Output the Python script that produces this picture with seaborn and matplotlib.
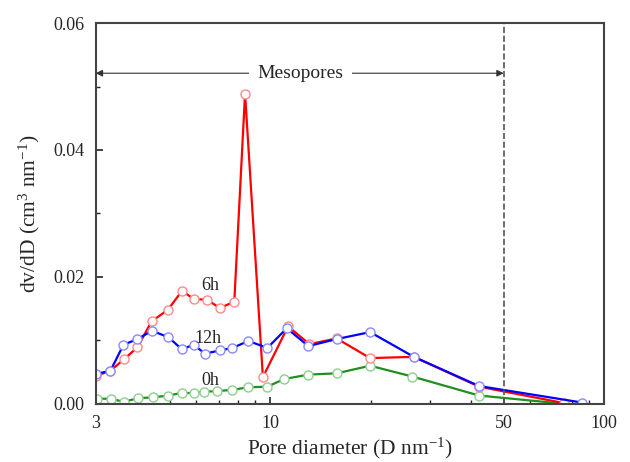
import matplotlib
matplotlib.use('Agg')
import matplotlib.pyplot as plt
import seaborn as sns
from matplotlib.ticker import FixedLocator, NullFormatter, MultipleLocator

# pore diameter (nm) and dv/dD values
x_6h = [3.0, 3.32, 3.64, 4.0, 4.41, 4.93, 5.44, 5.9, 6.45, 7.07, 7.8, 8.4, 9.5,
        11.3, 13.1, 15.8, 19.9, 26.9, 42.2, 76]
y_6h = [0.0044, 0.0052, 0.0070, 0.0089, 0.0130, 0.0148, 0.0178, 0.0165, 0.0164,
        0.0151, 0.0161, 0.0489, 0.0042, 0.0122, 0.0094, 0.0103, 0.0072, 0.0074,
        0.0027, 0.0001]

x_12h = [3.0, 3.32, 3.63, 4.0, 4.42, 4.95, 5.43, 5.9, 6.37, 7.05, 7.7, 8.6, 9.8,
         11.2, 13.0, 15.8, 19.9, 26.9, 42.2, 85.7]
y_12h = [0.0047, 0.0052, 0.0093, 0.0102, 0.0115, 0.0105, 0.0086, 0.0093, 0.0079,
         0.0084, 0.0088, 0.0099, 0.0088, 0.0119, 0.0091, 0.0102, 0.0113, 0.0074,
         0.0028, 0.0002]

x_0h = [3.03, 3.33, 3.64, 4.02, 4.45, 4.93, 5.43, 5.9, 6.35, 6.94, 7.7, 8.6, 9.8,
        11.0, 13.0, 15.8, 19.9, 26.6, 42.2, 76]
y_0h = [0.0008, 0.0008, 0.0003, 0.0009, 0.0010, 0.0013, 0.0017, 0.0017, 0.0019,
        0.0020, 0.0022, 0.0026, 0.0027, 0.0039, 0.0046, 0.0048, 0.0060, 0.0043,
        0.0013, 0.0]

x_ticks = [3, 10, 50, 100]
x_tick_labels = ['3', '10', '50', '100']

sns.set_style('ticks')
plt.rcParams['font.family'] = ['Liberation Serif', 'DejaVu Serif']
plt.rcParams['mathtext.fontset'] = 'custom'
plt.rcParams['mathtext.rm'] = 'Liberation Serif'
plt.rcParams['mathtext.it'] = 'Liberation Serif:italic'

fig = plt.figure(figsize=(6.3, 4.62), dpi=100)
ax = fig.add_axes([0.152, 0.126, 0.807, 0.824])


def draw_series(x, y, line_col, marker_col):
    sns.lineplot(x=x, y=y, ax=ax, color=line_col, linewidth=1.6, marker='o',
                 markersize=6.5, markerfacecolor='white',
                 markeredgecolor=marker_col, markeredgewidth=1.0)


draw_series(x_0h, y_0h, '#1f8f1f', '#8fcf8f')
draw_series(x_6h, y_6h, '#ff0000', '#ff8a8a')
draw_series(x_12h, y_12h, '#0000ff', '#8a8aff')

ax.set_xscale('log')
ax.set_xlim(3, 100)
ax.set_ylim(0, 0.06)
ax.xaxis.set_major_locator(FixedLocator(x_ticks))
ax.set_xticklabels(x_tick_labels)
ax.xaxis.set_minor_locator(FixedLocator([4, 5, 6, 7, 8, 9, 20, 30, 40, 60, 70, 80, 90]))
ax.xaxis.set_minor_formatter(NullFormatter())
ax.yaxis.set_major_locator(MultipleLocator(0.02))
ax.yaxis.set_minor_locator(MultipleLocator(0.01))
ax.yaxis.set_major_formatter(plt.FormatStrFormatter('%.2f'))

ax.tick_params(which='both', direction='in', top=False, right=False,
               labelsize=13, color='#222222')
ax.tick_params(axis='y', which='major', pad=8)
ax.tick_params(axis='x', which='major', pad=8)
ax.tick_params(which='major', length=5, width=1.2)
ax.tick_params(which='minor', length=3, width=1.0)
for s in ax.spines.values():
    s.set_color('#444444')
    s.set_linewidth(1.5)

ax.set_xlabel('Pore diameter (D nm$^{-1}$)', fontsize=15.5, labelpad=3)
ax.set_ylabel('dv/dD (cm$^{3}$ nm$^{-1}$)', fontsize=15.5, labelpad=8)

# mesopore region
ax.axvline(50, color='#555555', linestyle='--', linewidth=1.2)
ax.annotate('', xy=(3.0, 0.0521), xytext=(50, 0.0521),
            arrowprops=dict(arrowstyle='<|-|>', color='#333333', lw=0.8,
                            mutation_scale=10, shrinkA=0, shrinkB=0))
ax.text(12.3, 0.0521, 'Mesopores', ha='center', va='center', fontsize=14,
        bbox=dict(facecolor='white', edgecolor='none', pad=6))

ax.text(6.6, 0.0186, '6h', ha='center', va='center', fontsize=13)
ax.text(6.5, 0.0103, '12h', ha='center', va='center', fontsize=13)
ax.text(6.6, 0.0037, '0h', ha='center', va='center', fontsize=13)

fig.savefig('out.png', dpi=100)
